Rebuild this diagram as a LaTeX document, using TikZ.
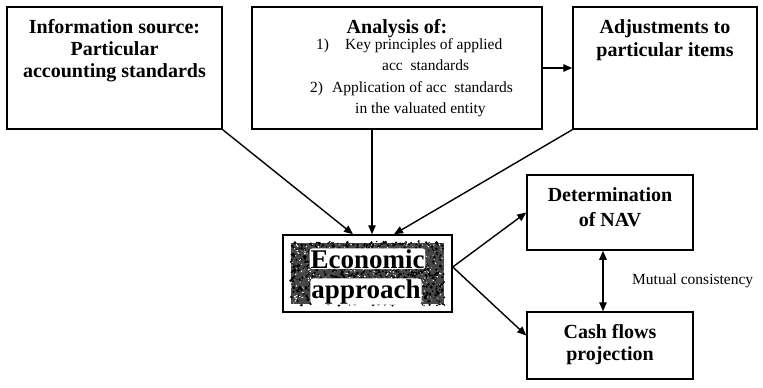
\documentclass[tikz,border=0pt]{standalone}
\usepackage{fontspec}
\setmainfont{Liberation Serif}
\usetikzlibrary{arrows.meta,calc}
\begin{document}
\begin{tikzpicture}[x=1pt,y=-1pt,
  box/.style={draw, line width=1.5pt, inner sep=0pt},
  conn/.style={line width=1.4pt, -{Triangle[length=9pt,width=7.5pt]}},
  dconn/.style={line width=1.4pt, {Triangle[length=9pt,width=7.5pt]}-{Triangle[length=9pt,width=7.5pt]}},
  heading/.style={font=\fontsize{20}{22}\selectfont\bfseries, inner sep=0pt, anchor=base},
  plain/.style={font=\fontsize{15.5}{18}\selectfont, inner sep=0pt, anchor=base west},
  econtxt/.style={font=\fontsize{27}{30}\selectfont\bfseries, inner xsep=1pt, inner ysep=0.8pt,
    anchor=base, fill=white, rounded corners=3pt}
]
\useasboundingbox (0,0) rectangle (763,388);

% ---------- top row of boxes ----------
\node[box, minimum width=215pt, minimum height=122pt] (src) at (114.5,68) {};
\node[heading] (src1) at (114.5,33) {Information source:};
\node[heading] (src2) at (114.5,55) {Particular};
\node[heading] (src3) at (114.5,77) {accounting standards};

\node[box, minimum width=290pt, minimum height=122pt] (ana) at (397,68) {};
\node[heading] (ana0) at (397,33) {Analysis of:};
\node[plain] (ana1n) at (316,49) {1)};
\node[plain] (ana1) at (345,49) {Key principles of applied};
\node[plain] (ana1b) at (382,70) {acc\ \ standards};
\node[plain] (ana2n) at (310,92) {2)};
\node[plain] (ana2) at (332,92) {Application of acc\ \ standards};
\node[plain] (ana2b) at (355,113) {in the valuated entity};

\node[box, minimum width=184pt, minimum height=122pt] (adj) at (665,68) {};
\node[heading] (adj1) at (665,34) {Adjustments to};
\node[heading] (adj2) at (665,56) {particular items};

% ---------- central box with grainy fill ----------
\node[box, minimum width=169pt, minimum height=77pt] (econ) at (367.5,273.5) {};
\begin{scope}
  \clip (288,240) rectangle (447,307);
  \fill[black!72] (291,243) rectangle (444,304);
  \pgfmathsetseed{4242}
  \foreach \i in {1,...,900} {
    \fill[black] ({367.5+77*rand},{273.5+32*rand}) circle ({0.6pt+1.0pt*rnd});
  }
  \foreach \i in {1,...,420} {
    \fill[white] ({367.5+78*rand},{273.5+33*rand}) circle ({0.3pt+0.6pt*rnd});
  }
\end{scope}
\node[econtxt] (econ1) at (367.5,268) {Economic};
\node[econtxt] (econ2) at (366,298) {approach};

% ---------- right column ----------
\node[box, minimum width=166pt, minimum height=75pt] (nav) at (610,212.5) {};
\node[heading] (nav1) at (610,201) {Determination};
\node[heading] (nav2) at (610,226) {of NAV};

\node[box, minimum width=166pt, minimum height=67pt] (cash) at (610,345.5) {};
\node[heading] (cash1) at (610,338) {Cash flows};
\node[heading] (cash2) at (610,360) {projection};

\node[plain, anchor=west] (mutual) at (632,281) {Mutual consistency};

% ---------- connectors ----------
\coordinate (vx) at (372,0);
\coordinate (mx) at (603,0);
\draw[conn] (ana.east) -- (adj.west);
\draw[conn] (src.south east) -- ($(econ.north)+(-14.5,0)$);
\draw[conn] (ana.south -| vx) -- (econ.north -| vx);
\draw[conn] (adj.south west) -- ($(econ.north)+(26.5,0)$);
\draw[conn] ($(econ.east)+(0,-6.5)$) -- (nav.west);
\draw[conn] ($(econ.east)+(0,-6.5)$) -- ($(cash.west)+(0,-10)$);
\draw[dconn] (nav.south -| mx) -- (cash.north -| mx);
\end{tikzpicture}
\end{document}
